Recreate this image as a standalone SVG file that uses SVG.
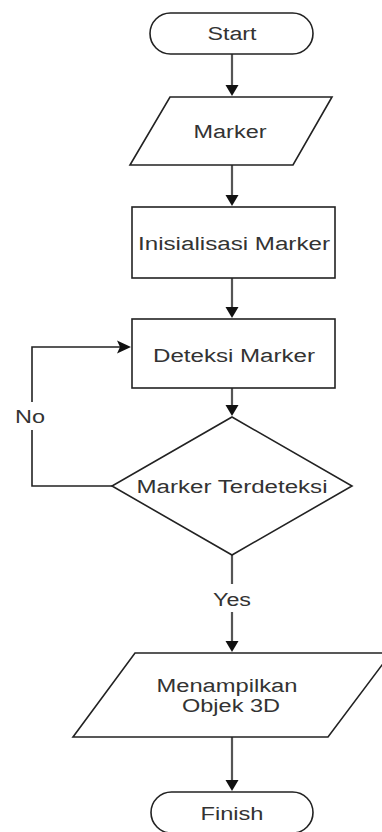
<svg xmlns="http://www.w3.org/2000/svg" width="382" height="832" viewBox="0 0 382 832">
<style>
.shape{fill:#fff;stroke:#222;stroke-width:1.6}
.conn{fill:none;stroke:#555;stroke-width:2.2}
.loop{fill:none;stroke:#222;stroke-width:1.6}
.lbl{font-family:"Liberation Sans",Arial,sans-serif;font-size:18px;fill:#333;text-anchor:middle}
.head{fill:#111}
</style>
<rect width="382" height="832" fill="#fff"/>
<g id="connectors">
<line class="conn" x1="232" y1="54" x2="232" y2="86"/>
<polygon class="head" points="225.5,85 238.5,85 232,96"/>
<line class="conn" x1="232" y1="165" x2="232" y2="196"/>
<polygon class="head" points="225.5,195 238.5,195 232,206"/>
<line class="conn" x1="232" y1="278" x2="232" y2="308"/>
<polygon class="head" points="225.5,307 238.5,307 232,318"/>
<line class="conn" x1="232" y1="388" x2="232" y2="406"/>
<polygon class="head" points="225.5,405 238.5,405 232,416"/>
<line class="conn" x1="232" y1="555" x2="232" y2="584"/>
<line class="conn" x1="232" y1="612" x2="232" y2="642"/>
<polygon class="head" points="225.5,641 238.5,641 232,652"/>
<line class="conn" x1="232" y1="737" x2="232" y2="781"/>
<polygon class="head" points="225.5,780 238.5,780 232,791"/>
<polyline class="loop" points="112,486 32,486 32,430"/>
<polyline class="loop" points="32,402 32,347 120,347"/>
<polygon class="head" points="131,347 117,340.5 120,347 117,353.5"/>
<text class="lbl" x="232" y="606" textLength="38" lengthAdjust="spacingAndGlyphs">Yes</text>
<text class="lbl" x="30" y="423" textLength="30" lengthAdjust="spacingAndGlyphs">No</text>
</g>
<g id="start">
<rect class="shape" x="150" y="13" width="163" height="41" rx="20.5"/>
<text class="lbl" x="232" y="40" textLength="49" lengthAdjust="spacingAndGlyphs">Start</text>
</g>
<g id="marker">
<polygon class="shape" points="170,97 332,97 293,165 130,165"/>
<text class="lbl" x="230" y="138" textLength="73" lengthAdjust="spacingAndGlyphs">Marker</text>
</g>
<g id="inisialisasi">
<rect class="shape" x="132" y="207" width="203" height="71"/>
<text class="lbl" x="234" y="250" textLength="192" lengthAdjust="spacingAndGlyphs">Inisialisasi Marker</text>
</g>
<g id="deteksi">
<rect class="shape" x="132" y="319" width="203" height="69"/>
<text class="lbl" x="234" y="362" textLength="162" lengthAdjust="spacingAndGlyphs">Deteksi Marker</text>
</g>
<g id="terdeteksi">
<polygon class="shape" points="232,417 352,486 232,555 112,486"/>
<text class="lbl" x="232" y="493" textLength="191" lengthAdjust="spacingAndGlyphs">Marker Terdeteksi</text>
</g>
<g id="menampilkan">
<polygon class="shape" points="135,653 391,653 328,737 73,737"/>
<text class="lbl" x="227" y="692" textLength="141" lengthAdjust="spacingAndGlyphs">Menampilkan</text>
<text class="lbl" x="231" y="712" textLength="98" lengthAdjust="spacingAndGlyphs">Objek 3D</text>
</g>
<g id="finish">
<rect class="shape" x="151" y="792" width="162" height="41" rx="20.5"/>
<text class="lbl" x="232" y="820" textLength="63" lengthAdjust="spacingAndGlyphs">Finish</text>
</g>
</svg>
